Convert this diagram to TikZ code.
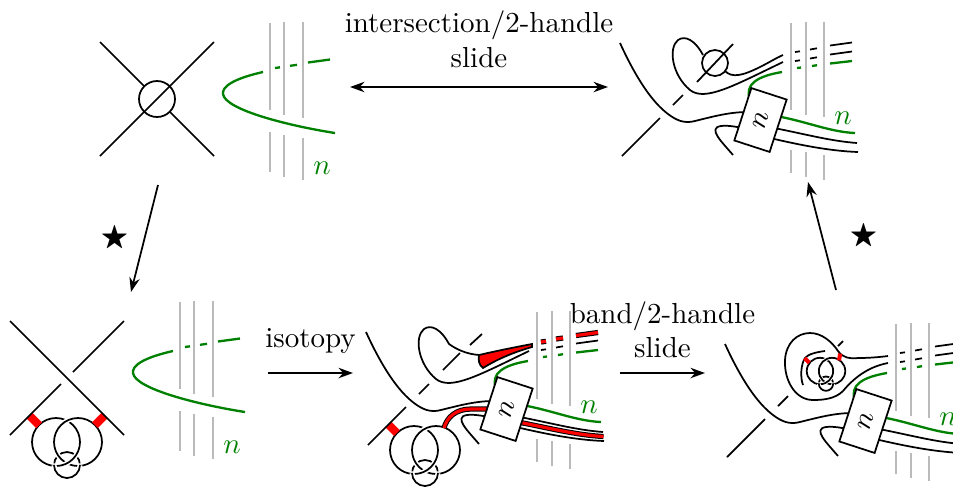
\documentclass[tikz,border=0pt]{standalone}
\usepackage{amsmath, amssymb}
\usetikzlibrary{arrows.meta}

\tikzset{
strand/.style={line width=0.6pt},
sheet/.style={black!27, line width=0.6pt},
greenline/.style={green!50!black, line width=0.8pt},
halo/.style={preaction={draw, white, line width=1.7pt}},
bandline/.style={line width=0.35pt, double=red, double distance=1.1pt},
bandbox/.style={fill=red, inner sep=0pt},
nbox/.style={draw, fill=white, line width=0.6pt, rotate=72, minimum width=19pt, minimum height=12.8pt, inner sep=0pt},
>={Stealth[length=5pt, width=3.6pt]}
}

% grey sheets and green curve of the left pictures
\newcommand{\leftsheet}{%
\draw[sheet] (270,23) -- (270,110) (270,132) -- (270,172)
  (284,22) -- (284,115) (284,135) -- (284,177)
  (303,22) -- (303,118) (303,138) -- (303,180);
\draw[greenline] (263,72) .. controls (232,79) and (222,87) .. (223,94)
  .. controls (225,110) and (290,126) .. (335,133);
\draw[greenline] (275,68) -- (280,67.3) (290,65.8) -- (297,64.8) (308,62.5) -- (330,59.5);
\node[text=green!50!black] (nl) at (322,168) {$n$};
}

% common part of the right pictures
\newcommand{\rightsheet}{%
\draw[sheet] (791,23) -- (791,110) (791,150) -- (791,173)
  (806,22) -- (806,115) (806,152) -- (806,177)
  (824,22) -- (824,117) (824,155) -- (824,180);
\draw[greenline] (797,68) -- (801,67.5) (812,66) -- (817,65.2) (830,63.5) -- (852,61);
\draw[greenline] (782,72) .. controls (758,76) and (744,84) .. (750,100);
\draw[greenline] (776,116) .. controls (805,121) and (830,132) .. (855,133);
\draw[strand] (620,43) .. controls (636,78) and (652,102) .. (668,114)
  .. controls (676,120) and (684,124) .. (695,121)
  .. controls (715,116) and (730,112) .. (748,112);
\draw[strand] (733,155) .. controls (722,142) and (707,128) .. (721,126)
  .. controls (729,125) and (736,127) .. (744,128);
\draw[strand] (774,128) .. controls (805,134) and (830,141) .. (857,143);
\draw[strand] (770,138) .. controls (800,145) and (830,151) .. (858,152);
\draw[strand] (622,156) -- (660,118) (673,105) -- (683,95);
\node[nbox] (box) at (760.5,120) {$n$};
\node[text=green!50!black] (nr) at (843,118) {$n$};
}

% clasp with a small ring
\newcommand{\clasp}{%
\draw[strand] (-13,23) arc[start angle=180, end angle=360, radius=13];
\draw[strand, halo] (35,0) arc[start angle=0, end angle=180, radius=24];
\draw[strand, halo] (-11,0) circle[radius=24];
\draw[strand, halo] (-13,0) arc[start angle=180, end angle=360, radius=24];
\draw[strand, halo] (13,23) arc[start angle=0, end angle=180, radius=13];
}

\begin{document}
\begin{tikzpicture}[x=0.345pt, y=-0.345pt]
\useasboundingbox (0,0) rectangle (953,489);

% top left
\leftsheet
\draw[strand] (100,42) -- (144.3,86.3) (169.7,111.7) -- (214,156);
\draw[strand] (100,156) -- (214,42);
\draw[strand] (157,99) circle[radius=18];

% top right
\draw[strand] (697,82) -- (733,44);
\draw[strand] (715,63) circle[radius=13];
\draw[strand] (725,71) .. controls (732,78) and (742,76) .. (760,67)
  .. controls (770,62) and (776,58) .. (783,55);
\draw[strand] (703,55) .. controls (695,40) and (685,35) .. (678,40)
  .. controls (668,48) and (672,75) .. (690,90)
  .. controls (705,102) and (735,85) .. (783,62);
\draw[strand] (795,52) -- (800,51.3) (810,49.5) -- (817,48.3) (830,45.5) -- (852,42.5)
  (795,61) -- (800,60.3) (810,58.5) -- (817,57.3) (830,54.5) -- (852,51.5);
\rightsheet

% bottom left
\begin{scope}[shift={(-90,279)}]
\leftsheet
\begin{scope}[shift={(157,163)}]
\clasp
\end{scope}
\node[bandbox, rotate=45, minimum width=2.8pt, minimum height=4.7pt] (bl) at (124.3,141.3) {};
\node[bandbox, rotate=-45, minimum width=2.8pt, minimum height=4.7pt] (br) at (189.7,141.3) {};
\draw[strand] (100,42) -- (214,156);
\draw[strand] (214,42) -- (163,93) (151,105) -- (100,156);
\end{scope}

% bottom middle
\begin{scope}[shift={(-254,289)}]
\begin{scope}[shift={(679,161)}]
\clasp
\end{scope}
\node[bandbox, rotate=45, minimum width=2.8pt, minimum height=4.1pt] (bl) at (646.7,139.7) {};
\draw[bandline] (698,139) .. controls (701,128) and (710,120) .. (725,120) -- (746,120);
\draw[bandline] (772,133) .. controls (803,139) and (830,146) .. (857.5,147.5);
\filldraw[strand, fill=red] (733,66) .. controls (750,62) and (770,58) .. (786,55) -- (786,58)
  .. controls (765,64) and (750,71) .. (737,79) .. controls (733,76) and (732,71) .. (733,66) -- cycle;
\draw[strand] (733,66) .. controls (720,65) and (710,60) .. (703,55)
  .. controls (695,40) and (685,35) .. (678,40)
  .. controls (668,48) and (672,75) .. (690,90)
  .. controls (705,102) and (735,85) .. (783,62);
\draw[strand] (697,81) -- (714,64) (724,56) -- (736,45);
\draw[bandline] (795,53) -- (800,52.3) (810,50) -- (817,49) (830,46.5) -- (852,43.5);
\draw[strand] (795,61) -- (800,60.3) (810,58.5) -- (817,57.3) (830,54.5) -- (852,51.5);
\rightsheet
\end{scope}

% bottom right
\begin{scope}[shift={(105,301)}]
\draw[strand] (783,62) .. controls (762,66) and (748,78) .. (738,90)
  .. controls (730,98) and (718,99) .. (708,99)
  .. controls (690,99) and (679,79) .. (680,59)
  .. controls (681,42) and (692,32) .. (705,32)
  .. controls (717,32) and (727,41) .. (733,50)
  .. controls (738,57) and (745,58) .. (753,57)
  .. controls (765,57) and (775,56) .. (783,55);
\begin{scope}[shift={(721,70)}, scale=0.55, halo/.style={preaction={draw, white, line width=1.2pt}}]
\clasp
\end{scope}
\draw[strand] (720,50) .. controls (712,51) and (703,53) .. (700,57)
  .. controls (696,63) and (695,76) .. (698,84);
\node[bandbox, rotate=-45, minimum width=2.3pt, minimum height=1.4pt] (bl) at (702,59.5) {};
\node[bandbox, rotate=80, minimum width=2.4pt, minimum height=1.4pt] (br) at (734.6,56) {};
\draw[strand] (733,45) -- (738,40);
\draw[strand] (795,52) -- (800,51.3) (810,49.5) -- (817,48.3) (830,45.5) -- (852,42.5)
  (795,61) -- (800,60.3) (810,58.5) -- (817,57.3) (830,54.5) -- (852,51.5);
\rightsheet
\end{scope}

% moves between the pictures
\coordinate (t1) at (350,87);
\coordinate (t2) at (608,87);
\draw[strand, <->] (t1) -- node[above=3pt, align=center] (slide1) {intersection/2-handle\\slide} (t2);
\coordinate (l1) at (158,185);
\coordinate (l2) at (131,292);
\draw[strand, ->] (l1) -- node[left=2pt] (star1) {$\bigstar$} (l2);
\coordinate (r1) at (836,290);
\coordinate (r2) at (808,182);
\draw[strand, ->] (r1) -- node[right=6pt] (star2) {$\bigstar$} (r2);
\coordinate (b1) at (268,373);
\coordinate (b2) at (353,373);
\draw[strand, ->] (b1) -- node[above=3pt] (iso) {isotopy} (b2);
\coordinate (c1) at (620,373);
\coordinate (c2) at (705,373);
\draw[strand, ->] (c1) -- node[above=1.5pt, align=center] (slide2) {band/2-handle\\slide} (c2);

\end{tikzpicture}
\end{document}
